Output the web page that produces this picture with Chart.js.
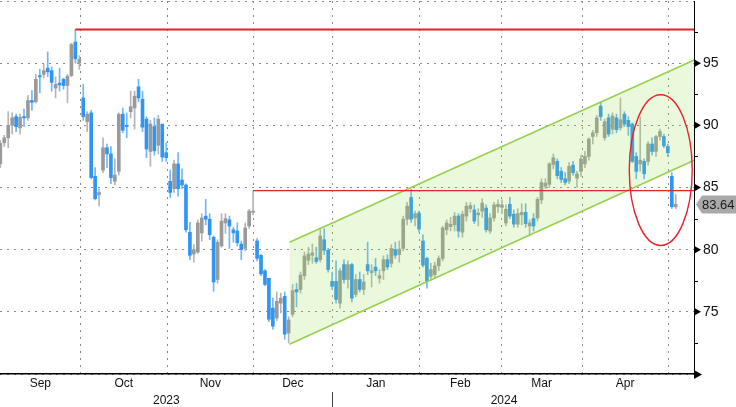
<!DOCTYPE html>
<html>
<head>
<meta charset="utf-8">
<script src="https://cdn.jsdelivr.net/npm/chart.js@4.4.1/dist/chart.umd.min.js"></script>
<style>
  html, body { margin: 0; padding: 0; background: #fff; }
  #wrap { width: 736px; height: 407px; }
</style>
</head>
<body>
<div id="wrap"><canvas id="chart" width="736" height="407"></canvas></div>
<script>
// Daily candles, 1 Sep 2023 .. 2 May 2024 (one entry per trading day)
const opens = [
  86.9, 88.6, 89.0, 90.0, 90.7, 89.8, 90.7, 90.6, 92.0, 91.9, 94.0, 94.1, 94.6, 94.4, 93.0, 93.4, 93.7, 93.2, 94.0, 96.7, 95.0,
  92.2, 90.3, 91.0, 85.9, 84.4, 86.4, 88.2, 87.7, 85.5, 86.3, 90.9, 90.0, 91.1, 91.4, 93.1, 92.1, 90.5, 87.9, 89.9, 88.4, 90.1, 87.8,
  85.5, 84.9, 86.9, 85.6, 85.2, 81.4, 79.65, 79.8, 81.35, 82.7, 82.45, 81.0, 77.6, 80.3, 82.15, 82.4, 81.6, 81.5, 80.45, 80.1, 81.9, 83.0,
  80.7, 79.55, 78.3, 77.7, 75.3, 74.5, 75.7, 76.25, 73.3, 74.8, 76.8, 76.8, 77.9, 79.15, 79.55, 79.35, 79.2, 80.8, 79.95, 77.45,
  77.45, 75.7, 78.8, 77.6, 78.8, 76.4, 77.6, 76.8, 78.8, 78.15, 78.6, 77.7, 78.3, 79.2, 78.9, 80.0, 79.6, 80.1, 82.45, 84.2, 82.55, 82.95,
  80.7, 79.3, 77.85, 78.0, 78.7, 79.3, 81.6, 81.85, 82.0, 82.7, 81.4, 82.7, 83.3, 83.2, 82.8, 83.1, 83.35, 81.5, 82.55, 83.45, 83.4,
  82.15, 83.65, 82.85, 82.05, 82.8, 83.0, 81.9, 82.5, 82.55, 84.0, 85.1, 85.25, 86.85, 87.1, 86.3, 85.7, 85.5, 86.8, 85.75, 86.3,
  86.9, 87.5, 89.1, 89.4, 91.55, 89.0, 90.6, 89.7, 90.6, 89.8, 90.9, 90.4, 90.1, 87.5, 86.9, 87.1, 87.1, 88.5, 87.9, 89.1, 89.1, 88.3,
  85.9, 83.45
];
const highs = [
  88.8, 89.2, 91.1, 91.0, 90.9, 90.9, 91.3, 92.4, 92.8, 94.1, 94.5, 94.9, 95.9, 94.7, 93.9, 94.6, 93.8, 94.1, 96.6, 97.7, 95.6,
  93.3, 91.1, 91.2, 86.6, 84.9, 89.0, 88.5, 88.3, 87.3, 91.0, 91.4, 91.0, 92.75, 92.75, 93.7, 92.75, 90.7, 90.4, 90.6, 90.8, 90.1, 88.6,
  86.4, 87.2, 87.8, 86.5, 85.3, 82.2, 80.4, 82.4, 82.9, 84.05, 82.9, 81.1, 80.8, 82.9, 82.9, 82.7, 81.8, 82.15, 80.7, 82.15, 83.25, 84.75,
  80.9, 79.6, 78.4, 77.7, 76.1, 76.6, 76.5, 76.6, 74.6, 77.2, 77.3, 78.2, 79.8, 80.2, 80.45, 80.2, 81.7, 81.7, 80.1, 78.2,
  79.1, 78.5, 79.2, 79.1, 78.9, 78.0, 78.2, 78.0, 80.6, 78.8, 79.3, 78.4, 79.5, 79.6, 80.4, 80.6, 80.7, 82.7, 83.8, 84.85, 83.1, 83.1,
  81.2, 79.4, 78.9, 79.0, 79.5, 81.9, 82.4, 82.6, 83.0, 82.9, 83.1, 83.8, 83.8, 83.6, 83.3, 84.1, 83.6, 82.9, 83.8, 84.0, 84.0,
  83.6, 84.2, 83.2, 83.3, 83.7, 83.7, 82.4, 82.9, 84.2, 85.7, 85.7, 87.0, 87.7, 87.3, 86.6, 86.2, 87.0, 87.1, 86.3, 87.6,
  87.9, 89.0, 89.6, 90.8, 91.9, 90.5, 90.9, 91.0, 90.9, 92.2, 91.1, 90.7, 90.2, 87.8, 90.7, 87.3, 88.7, 89.0, 89.2, 89.7, 89.3, 88.5,
  86.2, 84.45
];
const lows = [
  86.6, 88.3, 88.2, 89.3, 89.5, 89.3, 89.9, 90.4, 91.2, 91.8, 92.6, 93.8, 93.9, 92.75, 92.2, 92.75, 92.9, 91.8, 93.9, 95.0, 94.5,
  90.4, 89.5, 85.7, 84.0, 83.5, 86.2, 86.6, 85.3, 85.2, 86.0, 89.4, 89.0, 90.6, 89.7, 91.9, 89.5, 87.4, 86.7, 87.6, 87.7, 87.1, 87.1,
  84.2, 84.6, 84.3, 84.9, 81.4, 79.2, 79.0, 79.7, 80.7, 82.0, 80.8, 76.65, 77.3, 80.2, 81.3, 80.1, 80.6, 80.3, 79.2, 79.9, 81.7, 82.8,
  79.1, 77.9, 77.1, 74.2, 73.6, 74.3, 74.9, 72.8, 72.5, 74.6, 75.4, 76.5, 77.6, 78.8, 78.9, 78.9, 79.0, 79.6, 78.2, 76.8,
  75.7, 75.3, 77.3, 76.9, 75.8, 76.2, 76.6, 76.4, 78.0, 77.0, 77.9, 77.3, 77.6, 78.4, 78.6, 79.3, 79.0, 79.9, 82.0, 82.2, 81.9, 81.4,
  78.6, 76.9, 77.6, 77.7, 78.3, 79.1, 81.2, 81.5, 81.5, 81.0, 81.0, 82.3, 83.0, 82.1, 81.9, 82.6, 81.4, 81.3, 82.3, 83.0, 82.9,
  81.9, 82.5, 81.8, 81.8, 82.0, 81.8, 81.2, 81.5, 82.3, 83.7, 84.9, 85.0, 86.5, 85.7, 85.4, 85.2, 85.3, 86.0, 85.0, 85.9,
  86.6, 87.2, 88.5, 89.1, 90.4, 88.8, 89.1, 89.3, 89.4, 89.6, 89.9, 89.2, 87.0, 85.7, 86.3, 85.7, 86.8, 87.6, 87.5, 88.8, 88.2, 87.5,
  83.3, 83.3
];
const closes = [
  88.55, 89.0, 90.0, 90.6, 89.9, 90.65, 90.6, 92.0, 91.85, 93.7, 93.9, 94.4, 94.3, 93.45, 93.3, 93.25, 93.2, 93.95, 96.5, 95.35, 95.3,
  90.7, 90.9, 85.8, 84.1, 84.6, 88.2, 87.7, 85.8, 86.0, 90.9, 89.6, 89.9, 91.5, 92.35, 92.2, 89.85, 88.1, 90.1, 87.95, 90.5, 87.45, 87.4,
  84.6, 86.9, 84.9, 85.2, 81.6, 79.55, 80.0, 82.15, 82.55, 82.45, 81.2, 77.4, 80.6, 82.3, 82.5, 81.9, 81.35, 80.55, 80.0, 81.75, 83.1, 83.1,
  79.3, 78.05, 77.2, 74.4, 73.85, 75.85, 76.1, 73.2, 74.35, 76.7, 76.6, 77.95, 79.5, 79.65, 79.75, 79.05, 81.1, 79.95, 78.4, 77.05,
  76.0, 78.3, 77.6, 78.8, 76.1, 77.6, 76.8, 77.4, 78.3, 78.3, 78.3, 77.9, 79.2, 78.6, 80.1, 79.55, 80.05, 82.45, 83.5, 82.45, 82.9, 81.65,
  78.75, 77.45, 78.4, 78.7, 79.3, 81.75, 82.15, 82.05, 82.7, 81.5, 82.85, 83.5, 83.55, 82.3, 82.95, 83.75, 81.6, 82.55, 83.6, 83.65, 83.6,
  83.25, 82.7, 82.05, 82.9, 83.0, 82.1, 82.15, 81.9, 84.05, 85.4, 85.35, 86.9, 87.4, 85.95, 85.65, 85.4, 86.7, 86.2, 86.1, 87.3,
  87.5, 88.9, 89.4, 90.6, 90.7, 90.3, 89.3, 90.75, 89.65, 90.45, 90.1, 89.9, 87.1, 86.3, 87.2, 86.1, 88.5, 87.9, 89.1, 89.5, 88.35, 87.8,
  83.45, 83.65
];

// x axis: month boundaries (trading-day index) and labels
const monthLabels = ['Sep', 'Oct', 'Nov', 'Dec', 'Jan', 'Feb', 'Mar', 'Apr'];
const monthBounds = [0, 20.25, 42.3, 64.05, 84.05, 106.1, 126.8, 147.3, 169.1];
const yearLabels = ['2023', '2024'];
const yearBounds = [0, 84.05, 171];

// y axis
const yMajorTicks = [75, 80, 85, 90, 95];
const yMinorTicks = [72.5, 77.5, 82.5, 87.5, 92.5, 97.5];
const lastPrice = 83.64;

// annotations: resistance lines (start index, level), channel, ellipse
const resistStart = [19, 64];
const resistLevel = [97.7, 84.75];
const channelX = [73.2, 175.7];
const channelUpper = [80.6, 95.25];
const channelLower = [72.4, 87.2];
const ellipseCenter = [167.2, 86.4];
const ellipseRadius = [7.97, 6.06];

const X_MIN = -0.08, X_MAX = 175.62;

// build candle datasets
const idx = closes.map((c, i) => i);
const isUp = idx.map(i => closes[i] >= opens[i]);
const wickData = idx.map(i => ({ x: i, y: [lows[i], highs[i]] }));
const bodyData = idx.map(i => {
    let lo = Math.min(opens[i], closes[i]);
    let hi = Math.max(opens[i], closes[i]);
    if (hi - lo < 0.1) {
        const m = (hi + lo) / 2;
        lo = m - 0.05; hi = m + 0.05;
    }
    return { x: i, y: [lo, hi] };
});

const FONT = '"Liberation Sans", Arial, sans-serif';

const decor = {
    id: 'decor',
    afterDraw(chart) {
        const { ctx, chartArea: a, scales: { x, y } } = chart;
        ctx.save();

        // red ellipse
        const cx = x.getPixelForValue(ellipseCenter[0]);
        const cy = y.getPixelForValue(ellipseCenter[1]);
        const rx = x.getPixelForValue(ellipseCenter[0] + ellipseRadius[0]) - cx;
        const ry = cy - y.getPixelForValue(ellipseCenter[1] + ellipseRadius[1]);
        ctx.beginPath();
        ctx.ellipse(cx, cy, rx, ry, 0, 0, Math.PI * 2);
        ctx.strokeStyle = '#e8232c';
        ctx.lineWidth = 1.4;
        ctx.stroke();

        // y axis markers
        ctx.fillStyle = '#000';
        yMajorTicks.forEach(v => {
            const py = y.getPixelForValue(v);
            ctx.beginPath();
            ctx.moveTo(a.right, py - 4);
            ctx.lineTo(a.right + 7, py);
            ctx.lineTo(a.right, py + 4);
            ctx.closePath();
            ctx.fill();
        });
        ctx.strokeStyle = '#000';
        ctx.lineWidth = 1;
        yMinorTicks.forEach(v => {
            const py = Math.round(y.getPixelForValue(v)) + 0.5;
            ctx.beginPath();
            ctx.moveTo(a.right, py);
            ctx.lineTo(a.right + 4, py);
            ctx.stroke();
        });

        // arrow at end of x axis
        ctx.beginPath();
        ctx.moveTo(a.right, a.bottom - 4);
        ctx.lineTo(a.right + 8, a.bottom + 0.5);
        ctx.lineTo(a.right, a.bottom + 5);
        ctx.closePath();
        ctx.fill();

        // last price tag
        const tp = y.getPixelForValue(lastPrice);
        ctx.beginPath();
        ctx.moveTo(a.right + 2, tp);
        ctx.lineTo(a.right + 8, tp - 9);
        ctx.lineTo(736, tp - 9);
        ctx.lineTo(736, tp + 9);
        ctx.lineTo(a.right + 8, tp + 9);
        ctx.closePath();
        ctx.fillStyle = '#a9a9a9';
        ctx.fill();
        ctx.fillStyle = '#1a1a1a';
        ctx.font = '13px ' + FONT;
        ctx.textAlign = 'left';
        ctx.textBaseline = 'middle';
        ctx.fillText(lastPrice.toFixed(2), a.right + 8, tp + 1);

        // month and year labels
        ctx.fillStyle = '#111';
        ctx.font = '12px ' + FONT;
        ctx.textAlign = 'center';
        monthLabels.forEach((m, i) => {
            const px = (x.getPixelForValue(monthBounds[i]) + x.getPixelForValue(monthBounds[i + 1])) / 2;
            ctx.fillText(m, px, a.bottom + 10);
        });
        yearLabels.forEach((yl, i) => {
            const px = (x.getPixelForValue(yearBounds[i]) + x.getPixelForValue(yearBounds[i + 1])) / 2;
            ctx.fillText(yl, px, a.bottom + 27);
        });
        const sx = Math.round(x.getPixelForValue(yearBounds[1])) + 0.5;
        ctx.strokeStyle = '#444';
        ctx.beginPath();
        ctx.moveTo(sx, a.bottom + 18);
        ctx.lineTo(sx, 407);
        ctx.stroke();

        ctx.restore();
    }
};

const dotted = { color: '#8a8a8a', lineWidth: 1 };

new Chart(document.getElementById('chart').getContext('2d'), {
    type: 'bar',
    data: {
        datasets: [
            {
                type: 'line', label: 'upper',
                data: channelX.map((v, i) => ({ x: v, y: channelUpper[i] })),
                borderColor: '#96d04e', borderWidth: 1.6, pointRadius: 0, fill: false, order: 1
            },
            {
                type: 'line', label: 'lower',
                data: channelX.map((v, i) => ({ x: v, y: channelLower[i] })),
                borderColor: '#96d04e', borderWidth: 1.6, pointRadius: 0,
                fill: '-1', backgroundColor: 'rgba(150, 220, 80, 0.2)', order: 1
            },
            {
                type: 'line', label: 'high',
                data: [{ x: resistStart[0], y: resistLevel[0] }, { x: X_MAX, y: resistLevel[0] }],
                borderColor: '#e8202a', borderWidth: 2, pointRadius: 0, fill: false, order: 0
            },
            {
                type: 'line', label: 'level',
                data: [{ x: resistStart[1], y: resistLevel[1] }, { x: X_MAX, y: resistLevel[1] }],
                borderColor: '#e8202a', borderWidth: 1.4, pointRadius: 0, fill: false, order: 0
            },
            {
                label: 'body', data: bodyData, grouped: false, barThickness: 3,
                backgroundColor: idx.map(i => isUp[i] ? '#9a9a9a' : '#2f95f5'),
                borderWidth: 0, order: 2
            },
            {
                label: 'wick', data: wickData, grouped: false, barThickness: 1,
                backgroundColor: idx.map(i => isUp[i] ? '#b5b5b5' : '#6fb6fb'),
                borderWidth: 0, order: 3
            }
        ]
    },
    options: {
        responsive: false,
        animation: false,
        layout: { padding: { top: 1, left: 0, right: 0, bottom: 0 } },
        plugins: { legend: { display: false }, tooltip: { enabled: false } },
        scales: {
            x: {
                type: 'linear', min: X_MIN, max: X_MAX, offset: false,
                grid: { ...dotted, offset: false, drawTicks: false },
                border: { display: true, color: '#000', width: 1.5, dash: [2, 5] },
                ticks: { display: false },
                afterBuildTicks: axis => { axis.ticks = monthBounds.slice(1).map(v => ({ value: v })); },
                afterFit: axis => { axis.height = 33; axis.paddingLeft = 0; axis.paddingRight = 0; }
            },
            y: {
                position: 'right', min: 70, max: 100,
                grid: { ...dotted, drawTicks: false },
                border: { display: true, color: '#000', width: 1, dash: [2, 5] },
                ticks: {
                    stepSize: 5, padding: 9, color: '#111',
                    font: { size: 14, family: FONT },
                    callback: v => (v === 70 || v === 100) ? '' : v
                },
                afterFit: axis => { axis.width = 42; axis.paddingTop = 0; axis.paddingBottom = 0; }
            }
        }
    },
    plugins: [decor]
});
</script>
</body>
</html>
